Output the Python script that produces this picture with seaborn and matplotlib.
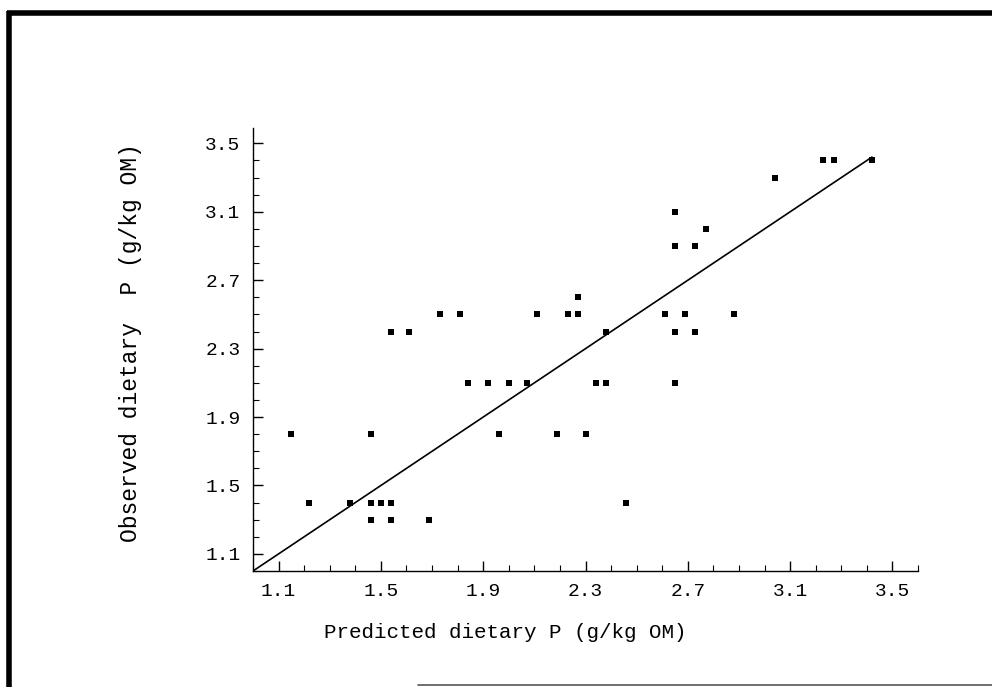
import matplotlib
matplotlib.use("Agg")
import matplotlib.pyplot as plt
from matplotlib.lines import Line2D
from matplotlib.ticker import MultipleLocator, FixedLocator
import seaborn as sns
import pandas as pd

# ---- data ----
predicted = [3.23, 3.27, 3.42,
             3.04,
             2.65,
             2.77,
             2.65, 2.73,
             2.27,
             1.73, 1.81, 2.11, 2.23, 2.27, 2.61, 2.69, 2.88,
             1.54, 1.61, 2.38, 2.65, 2.73,
             1.84, 1.92, 2.00, 2.07, 2.34, 2.38, 2.65,
             1.15, 1.46, 1.96, 2.19, 2.30,
             1.22, 1.38, 1.46, 1.50, 1.54, 2.46,
             1.46, 1.54, 1.69]
observed = [3.4, 3.4, 3.4,
            3.3,
            3.1,
            3.0,
            2.9, 2.9,
            2.6,
            2.5, 2.5, 2.5, 2.5, 2.5, 2.5, 2.5, 2.5,
            2.4, 2.4, 2.4, 2.4, 2.4,
            2.1, 2.1, 2.1, 2.1, 2.1, 2.1, 2.1,
            1.8, 1.8, 1.8, 1.8, 1.8,
            1.4, 1.4, 1.4, 1.4, 1.4, 1.4,
            1.3, 1.3, 1.3]
line_x = [1.0, 3.42]
line_y = [1.0, 3.42]
tick_values = [1.1, 1.5, 1.9, 2.3, 2.7, 3.1, 3.5]
tick_labels = ["1.1", "1.5", "1.9", "2.3", "2.7", "3.1", "3.5"]

df = pd.DataFrame({"pred": predicted, "obs": observed})
line_df = pd.DataFrame({"x": line_x, "y": line_y})

sns.set_style("white")
plt.rcParams["font.family"] = ["Liberation Mono", "DejaVu Sans"]

fig = plt.figure(figsize=(9.92, 6.87), dpi=100)
ax = fig.add_axes([253/992, 1 - 571/687, (918-253)/992, (571-128)/687])

sns.lineplot(data=line_df, x="x", y="y", ax=ax, color="black", linewidth=1.2,
             sort=False, estimator=None)
sns.scatterplot(data=df, x="pred", y="obs", ax=ax, marker="s", s=13,
                color="black", edgecolor="black", linewidth=0)

ax.set_xlim(1.0, 3.6)
ax.set_ylim(1.0, 3.59)
ax.xaxis.set_major_locator(FixedLocator(tick_values))
ax.yaxis.set_major_locator(FixedLocator(tick_values))
ax.set_xticklabels(tick_labels)
ax.set_yticklabels(tick_labels)
ax.xaxis.set_minor_locator(MultipleLocator(0.1))
ax.yaxis.set_minor_locator(MultipleLocator(0.1))
ax.tick_params(which="major", direction="in", length=7, width=1.0, color="black",
               labelsize=14, labelcolor="black", pad=9)
ax.tick_params(which="minor", direction="in", length=4, width=0.8, color="black")
ax.tick_params(axis="x", which="both", bottom=True, top=False)
ax.tick_params(axis="y", which="both", left=True, right=False)

for s in ["top", "right"]:
    ax.spines[s].set_visible(False)
for s in ["left", "bottom"]:
    ax.spines[s].set_color("black")
    ax.spines[s].set_linewidth(1.0)

ax.set_xlabel("Predicted dietary P (g/kg OM)", fontsize=15, color="black")
ax.set_ylabel("Observed dietary  P (g/kg OM)", fontsize=16.5, color="black")
ax.xaxis.set_label_coords((505 - 253) / 665, -(632 - 571) / 443, transform=ax.transAxes)
ax.yaxis.set_label_coords(-(253 - 130) / 665, (571 - 343) / 443, transform=ax.transAxes)
ax.xaxis.label.set_va("center")
ax.yaxis.label.set_va("center")

# outer frame of the scanned figure
fig.add_artist(Line2D([9/992, 9/992], [0, 1 - 11/687], color="black", linewidth=4,
                      solid_capstyle="butt", transform=fig.transFigure))
fig.add_artist(Line2D([7/992, 1.0], [1 - 13/687, 1 - 13/687], color="black", linewidth=4,
                      solid_capstyle="butt", transform=fig.transFigure))
fig.add_artist(Line2D([418/992, 1.0], [1 - 685/687, 1 - 685/687], color="#555555",
                      linewidth=1.2, transform=fig.transFigure))

fig.savefig("out.png", dpi=100)
